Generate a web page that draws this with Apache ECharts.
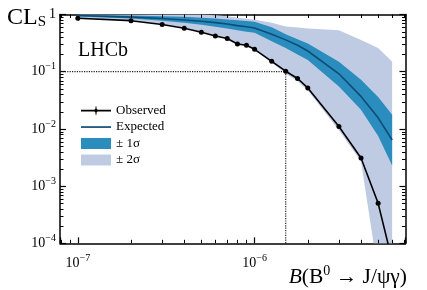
<!DOCTYPE html>
<html><head><meta charset="utf-8">
<script src="https://cdn.jsdelivr.net/npm/echarts@6/dist/echarts.min.js"></script>
<style>html,body{margin:0;padding:0;background:#fff}#c{width:427px;height:290px}</style>
</head><body><div id="c"></div>
<script>
// ---- data ----
const bfValues    = [1e-7, 2e-7, 3e-7, 4e-7, 5e-7, 6e-7, 7e-7, 8e-7, 9e-7, 1e-6, 1.25e-6, 1.5e-6, 1.75e-6, 2e-6, 3e-6, 4e-6, 5e-6, 6e-6];
const observedCLs = [0.86, 0.78, 0.67, 0.575, 0.49, 0.42, 0.38, 0.305, 0.29, 0.246, 0.152, 0.102, 0.076, 0.052, 0.011, 0.0031, 0.0005, 0.00005];
const expectedCLs = [0.96, 0.90, 0.85, 0.80, 0.76, 0.72, 0.68, 0.64, 0.61, 0.58, 0.45, 0.36, 0.29, 0.23, 0.092, 0.037, 0.0156, 0.0064];
const band1Upper  = [0.99, 0.96, 0.93, 0.91, 0.88, 0.85, 0.82, 0.79, 0.77, 0.75, 0.60, 0.45, 0.37, 0.31, 0.15, 0.072, 0.036, 0.0176];
const band1Lower  = [0.92, 0.85, 0.78, 0.72, 0.66, 0.61, 0.57, 0.53, 0.50, 0.48, 0.34, 0.26, 0.20, 0.16, 0.055, 0.0216, 0.0075, 0.0023];
const band2Upper  = [1, 1, 1, 1, 1, 0.97, 0.93, 0.88, 0.84, 0.81, 0.72, 0.62, 0.59, 0.57, 0.53, 0.36, 0.26, 0.15];
const band2Lower  = [0.87, 0.79, 0.68, 0.585, 0.495, 0.425, 0.375, 0.30, 0.28, 0.24, 0.145, 0.092, 0.068, 0.047, 0.0095, 0.0027, 0.00003, 0.00001];
const limitBF  = 1.5e-6;
const limitCLs = 0.1;
const xRange = [7.93e-8, 7.14e-6];
const yRange = [1e-4, 1];
const legendNames = ['Observed', 'Expected', '± 1σ', '± 2σ'];
const yTitle = 'CL';
const yTitleSub = 'S';
const experimentLabel = 'LHCb';

const SERIF = 'Liberation Serif';
const C1 = '#2b8cbe', C2 = '#bfcae3', CEXP = '#0c4d78';

// minor tick values (2..9 within each decade of the axis ranges)
function minorTicks(range) {
  const out = [];
  for (let e = Math.floor(Math.log10(range[0])); e <= Math.ceil(Math.log10(range[1])); e++) {
    for (let m = 2; m <= 9; m++) {
      const v = m * Math.pow(10, e);
      if (v > range[0] && v < range[1]) out.push(v);
    }
  }
  return out;
}
const xMinor = minorTicks(xRange);
const yMinor = minorTicks(yRange);

function powLabel(v) {
  const l = Math.log10(v), e = Math.round(l);
  if (Math.abs(l - e) > 1e-6) return '';
  if (e === 0) return '{b|1}';
  return '{b|10}{s|' + (e < 0 ? '−' + (-e) : e) + '}';
}
const labelRich = {
  b: {fontFamily: SERIF, fontSize: 14, lineHeight: 20, color: '#000'},
  s: {fontFamily: SERIF, fontSize: 10, lineHeight: 10, verticalAlign: 'top', color: '#000'}
};
function mkAxis(pos, show) {
  return {
    type: 'log', logBase: 10, position: pos,
    axisLine: {show: true, onZero: false, lineStyle: {color: '#000', width: 1.5}},
    axisTick: {show: true, inside: true, length: 6, lineStyle: {color: '#000', width: 1.2}},
    minorTick: {show: false},
    splitLine: {show: false},
    axisLabel: {show: show, formatter: powLabel, rich: labelRich, margin: 6, hideOverlap: false}
  };
}
const xa0 = Object.assign(mkAxis('bottom', true), {min: xRange[0], max: xRange[1]});
const xa1 = Object.assign(mkAxis('top', false), {min: xRange[0], max: xRange[1]});
const ya0 = Object.assign(mkAxis('left', true), {min: yRange[0], max: yRange[1]});
const ya1 = Object.assign(mkAxis('right', false), {min: yRange[0], max: yRange[1]});
xa0.axisLabel.margin = 10;
ya0.axisLabel.margin = 4;

function bandSeries(name, upper, lower, color) {
  return {
    name: name, type: 'custom', clip: true, silent: true,
    itemStyle: {color: color},
    data: [[bfValues[0], upper[0]]],
    renderItem: function (params, api) {
      if (params.dataIndex !== 0) return null;
      const pts = [];
      for (let i = 0; i < bfValues.length; i++) pts.push(api.coord([bfValues[i], upper[i]]));
      for (let i = bfValues.length - 1; i >= 0; i--) pts.push(api.coord([bfValues[i], lower[i]]));
      return {type: 'polygon', shape: {points: pts}, style: {fill: color}};
    }
  };
}

// minor ticks drawn through the axes' scales
const minorTickSeries = {
  name: 'minorTicks', type: 'custom', silent: true, clip: false, z: 10,
  data: [[bfValues[0], observedCLs[0]]],
  renderItem: function (params, api) {
    const cs = params.coordSys, L = 3.5, ch = [];
    const st = {stroke: '#000', lineWidth: 1, fill: null};
    const bottom = cs.y + cs.height, right = cs.x + cs.width;
    xMinor.forEach(v => {
      const px = Math.round(api.coord([v, 0.1])[0]) + 0.5;
      ch.push({type: 'polyline', shape: {points: [[px, bottom], [px, bottom - L]]}, style: st});
      ch.push({type: 'polyline', shape: {points: [[px, cs.y], [px, cs.y + L]]}, style: st});
    });
    yMinor.forEach(v => {
      const py = Math.round(api.coord([1e-6, v])[1]) + 0.5;
      ch.push({type: 'polyline', shape: {points: [[cs.x, py], [cs.x + L, py]]}, style: st});
      ch.push({type: 'polyline', shape: {points: [[right, py], [right - L, py]]}, style: st});
    });
    return {type: 'group', children: ch};
  }
};

const chart = echarts.init(document.getElementById('c'), null, {renderer: 'canvas'});
chart.setOption({
  animation: false,
  backgroundColor: '#fff',
  grid: {left: 60, right: 21.5, top: 14.5, bottom: 46.7, containLabel: false},
  xAxis: [xa0, xa1],
  yAxis: [ya0, ya1],
  legend: {
    data: [
      {name: legendNames[0], icon: 'path://M0,0 M30,11 M0,4.8 H30 V6.4 H0 Z M15,3 L17.3,5.6 L15,8.2 L12.7,5.6 Z M14.5,1.5 H15.5 V9.7 H14.5 Z'},
      {name: legendNames[1], icon: 'path://M0,0 M30,11 M0,4.7 H30 V6.4 H0 Z'},
      {name: legendNames[2], icon: 'rect'},
      {name: legendNames[3], icon: 'rect'}
    ],
    orient: 'vertical', left: 76, top: 99, itemWidth: 30, itemHeight: 11, itemGap: 3.5,
    textStyle: {fontFamily: SERIF, fontSize: 13, lineHeight: 13, color: '#000'},
    selectedMode: false
  },
  graphic: [
    {type: 'text', left: 7, top: 6, style: {
      text: '{a|' + yTitle + '}{b|' + yTitleSub + '}',
      rich: {a: {fontFamily: SERIF, fontSize: 24, lineHeight: 24, verticalAlign: 'top', fill: '#000'},
             b: {fontFamily: SERIF, fontSize: 15, lineHeight: 15, verticalAlign: 'bottom', fill: '#000'}}
    }},
    {type: 'text', left: 78, top: 41, style: {text: experimentLabel, font: '20px "Liberation Serif"', fill: '#000'}},
    {type: 'text', right: 20, top: 264, style: {
      text: '{i|B}{r|(B}{s|0}{r| → J/ψγ)}',
      rich: {i: {fontFamily: SERIF, fontStyle: 'italic', fontSize: 21.5, lineHeight: 26, fill: '#000'},
             r: {fontFamily: SERIF, fontSize: 21.5, lineHeight: 26, fill: '#000'},
             s: {fontFamily: SERIF, fontSize: 14, lineHeight: 14, verticalAlign: 'top', fill: '#000'}}
    }}
  ],
  series: [
    bandSeries(legendNames[3], band2Upper, band2Lower, C2),
    bandSeries(legendNames[2], band1Upper, band1Lower, C1),
    {
      name: 'limit', type: 'line', symbol: 'none', silent: true,
      data: [[xRange[0], limitCLs], [limitBF, limitCLs], [limitBF, yRange[0]]],
      lineStyle: {type: 'dotted', width: 1.2, color: '#222'}
    },
    {
      name: legendNames[1], type: 'line', symbol: 'none',
      data: bfValues.map((x, i) => [x, expectedCLs[i]]),
      lineStyle: {color: CEXP, width: 1.6}, itemStyle: {color: CEXP}
    },
    {
      name: legendNames[0], type: 'line', symbol: 'circle', symbolSize: 5, clip: true,
      data: bfValues.map((x, i) => [x, observedCLs[i]]),
      lineStyle: {color: '#000', width: 1.6}, itemStyle: {color: '#000'}
    },
    minorTickSeries
  ]
});
</script></body></html>
